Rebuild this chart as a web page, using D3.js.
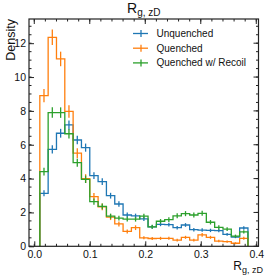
<!DOCTYPE html>
<html>
<head>
<meta charset="utf-8">
<script src="https://cdn.jsdelivr.net/npm/d3@7"></script>
<style>
  body { margin: 0; background: #fff; }
  svg { display: block; font-family: "Liberation Sans", Arial, Helvetica, sans-serif; }
</style>
</head>
<body>
<div id="chart"></div>
<script>
// bin edges: 25 bins of 0.015 from 0.01 to 0.385
const binStart = 0.01;
const binWidth = 0.015;

const seriesNames = ["Unquenched", "Quenched", "Quenched w/ Recoil"];
const seriesColors = ["#1f77b4", "#ff7f0e", "#2ca02c"];

const unquenched = [3.13, 5.73, 6.68, 7.17, 6.28, 5.83, 4.17, 3.82, 2.99, 2.5, 1.85, 1.8, 1.62, 1.15, 1.3, 1.28, 1.1, 1.26, 0.98, 0.96, 0.94, 0.93, 0.71, 0.55, 1.08];
const quenched = [8.9, 12.35, 11.07, 7.97, 5.5, 4.0, 2.93, 2.33, 1.72, 1.32, 0.88, 1.1, 0.5, 0.46, 0.47, 0.47, 0.37, 0.53, 0.37, 0.67, 0.53, 0.31, 0.28, 0.18, 0.47];
const recoil = [4.41, 7.9, 7.9, 6.65, 4.94, 3.96, 2.64, 2.36, 1.78, 1.66, 1.6, 1.6, 1.78, 1.15, 1.48, 1.58, 1.8, 1.93, 1.85, 1.95, 1.42, 1.12, 1.02, 0.6, 0.85];

const unquenchedErr = [0.18, 0.24, 0.26, 0.27, 0.25, 0.24, 0.2, 0.2, 0.17, 0.16, 0.14, 0.13, 0.13, 0.11, 0.11, 0.11, 0.1, 0.11, 0.1, 0.1, 0.1, 0.1, 0.08, 0.07, 0.1];
const quenchedErr = [0.39, 0.46, 0.43, 0.37, 0.3, 0.26, 0.22, 0.2, 0.17, 0.15, 0.12, 0.14, 0.09, 0.09, 0.09, 0.09, 0.08, 0.09, 0.08, 0.11, 0.09, 0.07, 0.07, 0.06, 0.09];
const recoilErr = [0.23, 0.31, 0.31, 0.28, 0.24, 0.22, 0.18, 0.17, 0.15, 0.14, 0.14, 0.14, 0.15, 0.12, 0.13, 0.14, 0.15, 0.15, 0.15, 0.15, 0.13, 0.12, 0.11, 0.09, 0.1];

const xTicks = [0.0, 0.1, 0.2, 0.3, 0.4];
const yTicks = [0, 2, 4, 6, 8, 10, 12];

class HistChart {
  constructor(_config) {
    this.config = {
      parentElement: _config.parentElement,
      containerWidth: _config.containerWidth || 266,
      containerHeight: _config.containerHeight || 277,
      margin: _config.margin || { top: 19, right: 7.5, bottom: 30.7, left: 29 },
    };
    this.initVis();
  }

  initVis() {
    let vis = this;
    const m = vis.config.margin;
    vis.width = vis.config.containerWidth - m.left - m.right;
    vis.height = vis.config.containerHeight - m.top - m.bottom;

    vis.svg = d3.select(vis.config.parentElement)
      .append("svg")
      .attr("width", vis.config.containerWidth)
      .attr("height", vis.config.containerHeight);

    vis.chart = vis.svg.append("g")
      .attr("transform", `translate(${m.left},${m.top})`);

    vis.x = d3.scaleLinear().domain([-0.0095, 0.404]).range([0, vis.width]);
    vis.y = d3.scaleLinear().domain([0, 13.43]).range([vis.height, 0]);

    vis.series = [
      { name: seriesNames[0], color: seriesColors[0], values: unquenched, errs: unquenchedErr },
      { name: seriesNames[1], color: seriesColors[1], values: quenched, errs: quenchedErr },
      { name: seriesNames[2], color: seriesColors[2], values: recoil, errs: recoilErr },
    ];

    vis.renderVis();
    vis.renderAxes();
    vis.renderLegend();
  }

  renderVis() {
    let vis = this;
    const line = d3.line().x(d => vis.x(d[0])).y(d => vis.y(d[1]));

    vis.series.forEach(s => {
      // step outline that starts and ends on zero
      let pts = [[binStart, 0]];
      s.values.forEach((v, i) => {
        const x0 = binStart + i * binWidth;
        pts.push([x0, v], [x0 + binWidth, v]);
      });
      pts.push([binStart + s.values.length * binWidth, 0]);

      const g = vis.chart.append("g");
      g.append("path")
        .attr("d", line(pts))
        .attr("fill", "none")
        .attr("stroke", s.color)
        .attr("stroke-width", 1.3);

      g.selectAll(".err")
        .data(s.values.map((v, i) => ({ v: v, e: s.errs[i], c: binStart + (i + 0.5) * binWidth })))
        .enter().append("line")
        .attr("x1", d => vis.x(d.c))
        .attr("x2", d => vis.x(d.c))
        .attr("y1", d => vis.y(d.v - d.e))
        .attr("y2", d => vis.y(d.v + d.e))
        .attr("stroke", s.color)
        .attr("stroke-width", 1.3);
    });
  }

  renderAxes() {
    let vis = this;
    const frameColor = "#222";

    const xMinor = d3.range(0, 0.401, 0.02);
    const yMinor = d3.range(0, 13.4, 0.5);

    const axisB = d3.axisBottom(vis.x).tickValues(xTicks).tickSize(-5).tickPadding(4.5).tickFormat(d3.format(".1f"));
    const axisL = d3.axisLeft(vis.y).tickValues(yTicks).tickSize(-5).tickPadding(3).tickFormat(d3.format("d"));

    const gx = vis.chart.append("g").attr("transform", `translate(0,${vis.height})`).call(axisB);
    const gy = vis.chart.append("g").call(axisL);
    [gx, gy].forEach(g => {
      g.select(".domain").remove();
      g.selectAll("line").attr("stroke", frameColor);
      g.selectAll("text").attr("fill", "#111").style("font-size", "10.5px");
    });

    // minor ticks on all four sides, plus major ticks on top and right
    vis.chart.append("g").selectAll("line").data(xMinor).enter().append("line")
      .attr("x1", d => vis.x(d)).attr("x2", d => vis.x(d))
      .attr("y1", vis.height).attr("y2", vis.height - 2.5).attr("stroke", frameColor);
    vis.chart.append("g").selectAll("line").data(xMinor).enter().append("line")
      .attr("x1", d => vis.x(d)).attr("x2", d => vis.x(d))
      .attr("y1", 0).attr("y2", 2.5).attr("stroke", frameColor);
    vis.chart.append("g").selectAll("line").data(xTicks).enter().append("line")
      .attr("x1", d => vis.x(d)).attr("x2", d => vis.x(d))
      .attr("y1", 0).attr("y2", 5).attr("stroke", frameColor);
    vis.chart.append("g").selectAll("line").data(yMinor).enter().append("line")
      .attr("x1", 0).attr("x2", 2.5)
      .attr("y1", d => vis.y(d)).attr("y2", d => vis.y(d)).attr("stroke", frameColor);
    vis.chart.append("g").selectAll("line").data(yMinor).enter().append("line")
      .attr("x1", vis.width).attr("x2", vis.width - 2.5)
      .attr("y1", d => vis.y(d)).attr("y2", d => vis.y(d)).attr("stroke", frameColor);
    vis.chart.append("g").selectAll("line").data(yTicks).enter().append("line")
      .attr("x1", vis.width).attr("x2", vis.width - 5)
      .attr("y1", d => vis.y(d)).attr("y2", d => vis.y(d)).attr("stroke", frameColor);

    vis.chart.append("rect")
      .attr("width", vis.width).attr("height", vis.height)
      .attr("fill", "none").attr("stroke", frameColor).attr("stroke-width", 1.2);

    // title
    const title = vis.svg.append("text")
      .attr("x", vis.config.margin.left + vis.width / 2)
      .attr("y", 13)
      .attr("text-anchor", "middle")
      .attr("fill", "#111")
      .style("font-size", "14px");
    title.append("tspan").text("R");
    title.append("tspan").attr("dy", 3).style("font-size", "10px").text("g, zD");

    // x label, right aligned
    const xl = vis.svg.append("text")
      .attr("x", 263)
      .attr("y", 269.5)
      .attr("text-anchor", "end")
      .attr("fill", "#111")
      .style("font-size", "12px");
    xl.append("tspan").text("R");
    xl.append("tspan").attr("dy", 3).style("font-size", "9px").text("g, zD");

    // y label, top aligned
    vis.svg.append("text")
      .attr("transform", `translate(14.5,${vis.config.margin.top}) rotate(-90)`)
      .attr("text-anchor", "end")
      .attr("fill", "#111")
      .style("font-size", "12.5px")
      .text("Density");
  }

  renderLegend() {
    let vis = this;
    const legend = vis.svg.append("g").attr("transform", "translate(141,33.5)");
    const items = legend.selectAll(".legend-item")
      .data(vis.series)
      .enter().append("g")
      .attr("class", "legend-item")
      .attr("transform", (d, i) => `translate(0,${i * 14.7})`);

    items.append("line")
      .attr("x1", -8).attr("x2", 7).attr("y1", 0).attr("y2", 0)
      .attr("stroke", d => d.color).attr("stroke-width", 1.3);
    items.append("line")
      .attr("x1", 0).attr("x2", 0).attr("y1", -3.5).attr("y2", 3.5)
      .attr("stroke", d => d.color).attr("stroke-width", 1.3);
    items.append("text")
      .attr("x", 15.5).attr("y", 0).attr("dy", "0.35em")
      .attr("fill", "#111")
      .style("font-size", "10px")
      .text(d => d.name);
  }
}

new HistChart({ parentElement: "#chart" });
</script>
</body>
</html>
